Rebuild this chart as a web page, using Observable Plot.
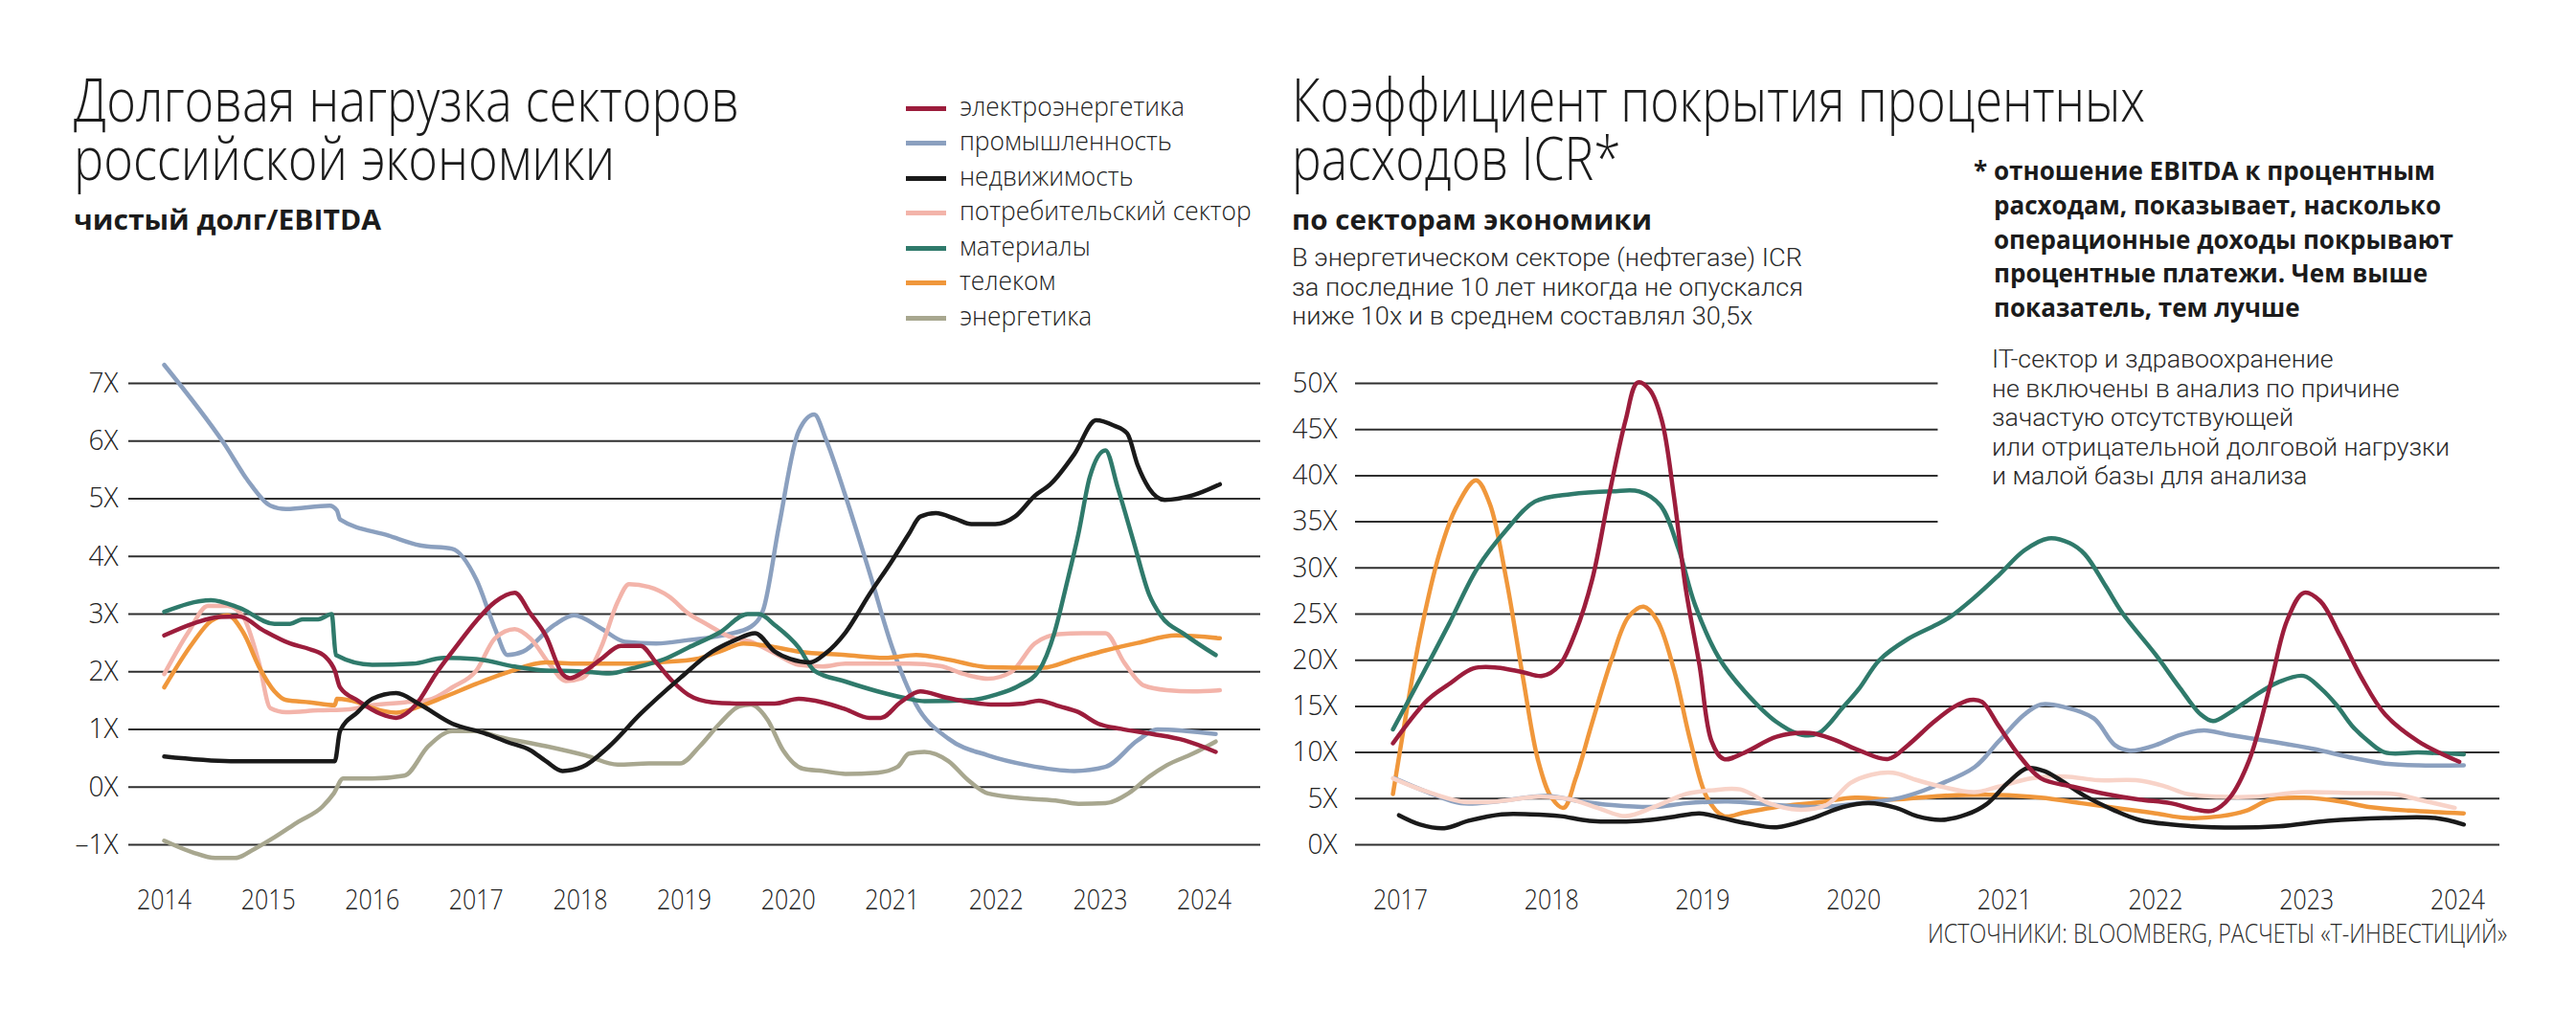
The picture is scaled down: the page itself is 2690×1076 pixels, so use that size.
<!DOCTYPE html>
<html><head><meta charset="utf-8">
<script src="https://cdn.jsdelivr.net/npm/d3@7"></script>
<script src="https://cdn.jsdelivr.net/npm/@observablehq/plot@0.6"></script>
<style>
html,body{margin:0;padding:0;background:#fff;}
#page{position:relative;width:2690px;height:1076px;overflow:hidden;background:#fff;font-family:"Open Sans","Noto Sans",sans-serif;color:#1b1b1b;}
.ln{position:absolute;white-space:nowrap;transform-origin:0 0;}
.sw{position:absolute;height:5px;width:42px;}
.chart{position:absolute;top:330px;}
</style></head><body><div id="page"></div>
<script>
// ---------- texts ----------
const leftTitle = ["Долговая нагрузка секторов", "российской экономики"];
const leftSubtitle = "чистый долг/EBITDA";
const legendLabels = ["электроэнергетика","промышленность","недвижимость","потребительский сектор","материалы","телеком","энергетика"];
const rightTitle = ["Коэффициент покрытия процентных", "расходов ICR*"];
const rightSubtitle = "по секторам экономики";
const rightDesc = ["В энергетическом секторе (нефтегазе) ICR","за последние 10 лет никогда не опускался","ниже 10х и в среднем составлял 30,5х"];
const noteBold = ["отношение EBITDA к процентным","расходам, показывает, насколько","операционные доходы покрывают","процентные платежи. Чем выше","показатель, тем лучше"];
const noteExcl = ["IT-сектор и здравоохранение","не включены в анализ по причине","зачастую отсутствующей","или отрицательной долговой нагрузки","и малой базы для анализа"];
const sourceText = "ИСТОЧНИКИ: BLOOMBERG, РАСЧЕТЫ «Т-ИНВЕСТИЦИЙ»";

// ---------- ticks ----------
const leftYTicks = [-1,0,1,2,3,4,5,6,7];
const leftXTicks = [2014,2015,2016,2017,2018,2019,2020,2021,2022,2023,2024];
const rightYTicksFull = [0,5,10,15,20,25,30];
const rightYTicksShort = [35,40,45,50];
const rightXTicks = [2017,2018,2019,2020,2021,2022,2023,2024];

// ---------- colours ----------
const cElektro = "#9c1d3c", cProm = "#8ba0bf", cNedv = "#1a1a1a", cPotreb = "#f3b4aa", cPotrebR = "#f8d3c8", cMater = "#2f7a6b", cTelecom = "#f0973b", cEnerg = "#a8a78f";
const legendColors = [cElektro, cProm, cNedv, cPotreb, cMater, cTelecom, cEnerg];

// ---------- left chart: net debt / EBITDA ----------
const elektro = [[2014.0,2.63],[2014.3,2.85],[2014.53,2.95],[2014.72,2.96],[2014.95,2.72],[2015.21,2.49],[2015.4,2.39],[2015.55,2.26],[2015.64,2.02],[2015.69,1.73],[2015.86,1.5],[2016.08,1.27],[2016.23,1.2],[2016.42,1.43],[2016.61,1.96],[2016.8,2.42],[2017.0,2.88],[2017.18,3.21],[2017.37,3.37],[2017.52,3.01],[2017.67,2.62],[2017.83,1.96],[2017.9,1.89],[2018.05,2.02],[2018.2,2.22],[2018.39,2.45],[2018.58,2.45],[2018.73,2.16],[2018.89,1.83],[2019.04,1.6],[2019.27,1.47],[2019.49,1.45],[2019.87,1.45],[2020.1,1.53],[2020.33,1.47],[2020.55,1.35],[2020.78,1.2],[2020.89,1.2],[2021.08,1.47],[2021.27,1.66],[2021.5,1.56],[2021.69,1.49],[2021.99,1.43],[2022.26,1.45],[2022.41,1.5],[2022.61,1.4],[2022.79,1.3],[2022.98,1.1],[2023.2,1.01],[2023.5,0.92],[2023.81,0.81],[2024.11,0.61]];
const prom = [[2014.0,7.32],[2014.57,5.97],[2014.83,5.25],[2015.02,4.88],[2015.17,4.82],[2015.59,4.88],[2015.66,4.8],[2015.69,4.64],[2016.16,4.36],[2016.46,4.19],[2016.77,4.13],[2017.0,3.6],[2017.18,2.75],[2017.3,2.29],[2017.45,2.35],[2017.75,2.81],[2017.94,2.98],[2018.2,2.75],[2018.43,2.52],[2018.73,2.49],[2019.04,2.55],[2019.42,2.65],[2019.64,2.78],[2019.76,3.08],[2019.91,4.52],[2020.1,6.17],[2020.25,6.46],[2020.36,6.04],[2020.55,5.05],[2020.78,3.73],[2021.0,2.42],[2021.23,1.43],[2021.54,0.84],[2021.92,0.55],[2022.3,0.38],[2022.75,0.28],[2023.05,0.35],[2023.36,0.81],[2023.55,1.0],[2024.11,0.92]];
const nedv = [[2014.0,0.53],[2014.64,0.45],[2015.64,0.45],[2015.69,0.97],[2015.86,1.3],[2016.0,1.53],[2016.23,1.63],[2016.46,1.43],[2016.77,1.1],[2017.07,0.94],[2017.3,0.78],[2017.52,0.64],[2017.67,0.45],[2017.83,0.28],[2018.02,0.35],[2018.28,0.71],[2018.58,1.27],[2018.96,1.89],[2019.27,2.35],[2019.49,2.55],[2019.68,2.67],[2019.87,2.35],[2020.02,2.22],[2020.21,2.16],[2020.36,2.32],[2020.55,2.68],[2020.78,3.34],[2021.0,3.93],[2021.16,4.39],[2021.27,4.69],[2021.42,4.75],[2021.61,4.65],[2021.76,4.56],[2021.99,4.56],[2022.18,4.69],[2022.37,5.05],[2022.52,5.25],[2022.75,5.77],[2022.96,6.36],[2023.13,6.27],[2023.26,6.13],[2023.36,5.58],[2023.47,5.18],[2023.62,4.98],[2023.89,5.06],[2024.15,5.25]];
const potreb = [[2014.0,1.96],[2014.23,2.68],[2014.42,3.14],[2014.61,3.14],[2014.76,2.95],[2014.91,2.16],[2015.02,1.37],[2015.17,1.3],[2015.48,1.33],[2015.78,1.35],[2016.0,1.42],[2016.31,1.47],[2016.54,1.51],[2016.77,1.73],[2017.0,2.02],[2017.18,2.58],[2017.37,2.74],[2017.52,2.58],[2017.71,2.12],[2017.86,1.84],[2018.02,1.89],[2018.2,2.42],[2018.36,3.21],[2018.47,3.52],[2018.66,3.47],[2018.85,3.31],[2019.04,3.01],[2019.23,2.81],[2019.42,2.62],[2019.64,2.52],[2019.87,2.32],[2020.1,2.12],[2020.33,2.09],[2020.55,2.14],[2021.16,2.14],[2021.46,2.1],[2021.69,1.96],[2021.92,1.88],[2022.14,1.99],[2022.37,2.49],[2022.6,2.65],[2022.83,2.67],[2023.05,2.67],[2023.23,2.16],[2023.42,1.76],[2023.64,1.68],[2023.89,1.66],[2024.15,1.68]];
const mater = [[2014.0,3.04],[2014.45,3.24],[2014.72,3.11],[2015.06,2.83],[2015.21,2.83],[2015.33,2.91],[2015.48,2.91],[2015.61,3.0],[2015.65,2.29],[2016.0,2.12],[2016.39,2.14],[2016.69,2.24],[2017.0,2.22],[2017.37,2.09],[2017.67,2.02],[2017.98,2.01],[2018.28,1.97],[2018.5,2.06],[2018.81,2.22],[2019.04,2.42],[2019.34,2.68],[2019.61,3.0],[2019.72,3.0],[2019.87,2.81],[2020.1,2.42],[2020.25,2.02],[2020.55,1.83],[2020.86,1.66],[2021.16,1.53],[2021.31,1.49],[2021.76,1.51],[2021.99,1.6],[2022.22,1.76],[2022.41,2.02],[2022.56,2.68],[2022.67,3.47],[2022.79,4.39],[2022.9,5.38],[2023.05,5.84],[2023.17,5.18],[2023.32,4.26],[2023.47,3.34],[2023.58,2.98],[2023.81,2.65],[2024.11,2.29]];
const telecom = [[2014.0,1.73],[2014.27,2.49],[2014.45,2.88],[2014.61,2.98],[2014.76,2.68],[2014.91,2.09],[2015.06,1.66],[2015.17,1.51],[2015.4,1.47],[2015.64,1.42],[2015.66,1.53],[2015.86,1.47],[2016.0,1.37],[2016.23,1.29],[2016.46,1.4],[2016.69,1.56],[2017.0,1.79],[2017.3,1.99],[2017.67,2.16],[2017.98,2.14],[2018.43,2.14],[2018.81,2.17],[2019.11,2.22],[2019.34,2.35],[2019.57,2.49],[2019.8,2.45],[2020.1,2.35],[2020.55,2.29],[2020.93,2.24],[2021.23,2.29],[2021.54,2.21],[2021.92,2.08],[2022.45,2.07],[2022.75,2.22],[2023.05,2.37],[2023.36,2.5],[2023.73,2.63],[2024.15,2.58]];
const energ = [[2014.0,-0.93],[2014.27,-1.13],[2014.49,-1.23],[2014.68,-1.23],[2014.87,-1.07],[2015.06,-0.87],[2015.29,-0.6],[2015.52,-0.34],[2015.63,-0.11],[2015.72,0.15],[2016.0,0.15],[2016.31,0.2],[2016.54,0.71],[2016.77,0.97],[2017.0,0.97],[2017.22,0.87],[2017.67,0.71],[2018.05,0.55],[2018.36,0.39],[2018.66,0.41],[2018.96,0.41],[2019.15,0.71],[2019.34,1.1],[2019.53,1.4],[2019.64,1.43],[2019.8,1.17],[2019.95,0.64],[2020.14,0.32],[2020.33,0.28],[2020.55,0.23],[2020.86,0.25],[2021.05,0.35],[2021.16,0.58],[2021.31,0.61],[2021.54,0.45],[2021.73,0.12],[2021.92,-0.11],[2022.3,-0.2],[2022.6,-0.24],[2022.79,-0.29],[2023.05,-0.28],[2023.27,-0.11],[2023.47,0.18],[2023.64,0.38],[2023.89,0.58],[2024.11,0.79]];

// ---------- right chart: ICR ----------
const materR = [[2016.95,12.5],[2017.15,18.6],[2017.32,23.9],[2017.51,30.0],[2017.7,34.1],[2017.89,37.2],[2018.13,38.0],[2018.4,38.3],[2018.58,38.3],[2018.72,36.8],[2018.84,32.1],[2018.95,26.0],[2019.11,20.2],[2019.28,16.6],[2019.49,13.3],[2019.66,11.9],[2019.77,12.1],[2019.93,14.9],[2020.04,17.0],[2020.17,20.0],[2020.36,22.3],[2020.53,23.7],[2020.64,24.7],[2020.8,26.8],[2020.96,29.2],[2021.13,31.9],[2021.29,33.2],[2021.43,32.7],[2021.53,31.5],[2021.67,28.0],[2021.78,25.1],[2022.0,20.6],[2022.16,17.0],[2022.3,14.1],[2022.38,13.4],[2022.49,14.3],[2022.65,16.1],[2022.81,17.6],[2022.98,18.3],[2023.09,17.0],[2023.2,15.1],[2023.3,12.9],[2023.41,11.2],[2023.52,10.0],[2023.74,10.0],[2024.04,9.8]];
const elektroR = [[2016.95,11.0],[2017.18,15.7],[2017.32,17.4],[2017.48,19.1],[2017.64,19.2],[2017.81,18.7],[2017.94,18.3],[2018.05,19.4],[2018.16,23.1],[2018.27,28.8],[2018.38,37.8],[2018.49,46.0],[2018.57,50.1],[2018.65,49.3],[2018.73,46.0],[2018.81,37.8],[2018.89,27.6],[2018.98,19.4],[2019.06,11.2],[2019.14,9.3],[2019.28,10.0],[2019.49,11.7],[2019.71,12.1],[2019.87,11.4],[2020.04,10.2],[2020.23,9.3],[2020.36,10.8],[2020.53,13.3],[2020.66,14.9],[2020.77,15.7],[2020.85,15.5],[2020.96,12.9],[2021.1,9.6],[2021.24,7.2],[2021.45,6.3],[2021.67,5.5],[2021.89,4.9],[2022.1,4.5],[2022.27,3.8],[2022.38,3.7],[2022.49,5.1],[2022.62,9.2],[2022.76,17.4],[2022.87,24.3],[2022.98,27.3],[2023.09,26.4],[2023.22,22.7],[2023.36,18.2],[2023.52,14.1],[2023.74,11.2],[2024.01,9.0]];
const telecomR = [[2016.95,5.5],[2017.02,12.5],[2017.13,22.7],[2017.26,31.7],[2017.37,36.6],[2017.5,39.5],[2017.59,37.0],[2017.7,28.8],[2017.81,18.2],[2017.91,9.2],[2018.0,5.1],[2018.08,4.0],[2018.16,7.2],[2018.27,13.3],[2018.4,20.2],[2018.51,24.7],[2018.61,25.8],[2018.7,24.3],[2018.81,19.0],[2018.92,11.2],[2019.03,5.1],[2019.14,3.1],[2019.28,3.5],[2019.49,4.1],[2019.77,4.6],[2020.01,5.1],[2020.26,4.9],[2020.58,5.3],[2020.96,5.4],[2021.24,5.1],[2021.51,4.5],[2021.78,3.9],[2022.0,3.4],[2022.21,2.9],[2022.43,3.1],[2022.6,3.7],[2022.76,4.9],[2022.98,5.1],[2023.22,4.7],[2023.41,4.1],[2023.68,3.7],[2024.04,3.4]];
const promR = [[2016.96,7.2],[2017.18,5.7],[2017.4,4.5],[2017.64,4.7],[2017.97,5.3],[2018.19,4.7],[2018.4,4.3],[2018.68,4.1],[2018.89,4.5],[2019.17,4.7],[2019.49,4.3],[2019.77,4.1],[2020.04,4.5],[2020.31,5.1],[2020.53,6.3],[2020.8,8.4],[2020.96,11.2],[2021.13,14.1],[2021.24,15.2],[2021.4,14.9],[2021.59,13.7],[2021.73,10.8],[2021.83,10.2],[2022.0,10.8],[2022.16,11.9],[2022.32,12.4],[2022.49,11.9],[2022.76,11.2],[2023.04,10.4],[2023.31,9.4],[2023.52,8.8],[2023.74,8.6],[2024.04,8.6]];
const potrebR = [[2016.95,7.2],[2017.15,5.9],[2017.4,4.7],[2017.64,4.7],[2017.91,5.2],[2018.13,4.9],[2018.32,3.9],[2018.49,3.1],[2018.68,4.1],[2018.89,5.5],[2019.06,5.9],[2019.25,6.0],[2019.44,4.5],[2019.63,3.8],[2019.82,4.3],[2019.98,6.7],[2020.12,7.6],[2020.26,7.8],[2020.42,7.0],[2020.58,6.3],[2020.8,5.7],[2020.96,6.3],[2021.18,7.2],[2021.4,7.4],[2021.62,7.0],[2021.87,7.0],[2022.05,6.4],[2022.21,5.5],[2022.43,5.2],[2022.65,5.2],[2022.98,5.7],[2023.31,5.6],[2023.58,5.5],[2023.74,4.9],[2023.98,4.0]];
const nedvR = [[2016.99,3.2],[2017.13,2.2],[2017.29,1.8],[2017.45,2.6],[2017.67,3.3],[2017.86,3.3],[2018.06,3.1],[2018.25,2.6],[2018.59,2.6],[2018.8,3.0],[2018.98,3.4],[2019.13,2.9],[2019.3,2.3],[2019.49,1.9],[2019.73,2.9],[2019.93,4.1],[2020.1,4.5],[2020.28,4.0],[2020.42,3.1],[2020.58,2.7],[2020.75,3.3],[2020.88,4.4],[2021.02,6.7],[2021.15,8.3],[2021.26,8.0],[2021.37,7.0],[2021.53,5.3],[2021.73,3.7],[2021.89,2.7],[2022.1,2.2],[2022.38,1.9],[2022.81,2.0],[2023.14,2.6],[2023.52,2.9],[2023.85,2.9],[2024.04,2.2]];

// ---------- html text helpers ----------
const page = document.getElementById("page");
function makeDiv(o) {
  const d = document.createElement("div");
  d.className = "ln";
  if (o.font) d.style.fontFamily = o.font;
  d.style.fontSize = o.size + "px";
  d.style.lineHeight = (o.step || o.size) + "px";
  d.style.fontWeight = o.weight || 300;
  d.style.color = o.color || "#1b1b1b";
  d.style.left = "0px"; d.style.top = "0px";
  return d;
}
function makeMarker() {
  const m = document.createElement("i");
  m.style.cssText = "display:inline-block;width:0;height:0;vertical-align:baseline";
  return m;
}
function textWidth(node) {
  const r = document.createRange();
  r.selectNodeContents(node);
  return r.getBoundingClientRect().width;
}
function place(d, marker, w, o) {
  const br = marker.getBoundingClientRect().top - d.getBoundingClientRect().top;
  const k = o.refWidth ? o.refWidth / w : (o.k || 1);
  d.style.top = (o.base - br) + "px";
  d.style.left = (o.anchor === "end" ? o.x - w * k : o.x) + "px";
  d.style.transform = `scaleX(${k})`;
  return k;
}
// lines separated by <br>
function block(lines, o) {
  const d = makeDiv(o);
  const nodes = [];
  let marker = null;
  lines.forEach((t, i) => {
    if (i > 0) d.append(document.createElement("br"));
    const n = document.createTextNode(t);
    d.append(n);
    nodes.push(n);
    if (i === 0) { marker = makeMarker(); d.append(marker); }
  });
  page.append(d);
  return place(d, marker, textWidth(nodes[o.ref || 0]), o);
}
// one wrapped paragraph, broken after the first line
function wrapped(lines, o) {
  const d = makeDiv(o);
  const probe = document.createTextNode(lines[0]);
  d.append(probe);
  page.append(d);
  const w = textWidth(probe);
  d.textContent = "";
  d.style.whiteSpace = "normal";
  d.style.width = Math.ceil(w + 2) + "px";
  const marker = makeMarker();
  d.append(marker, document.createTextNode(lines.join(" ")));
  return place(d, marker, w, o);
}

const tight = 'Roboto, "Open Sans", sans-serif';
wrapped(leftTitle, {x: 77, base: 127, step: 61, size: 62, weight: 300, refWidth: 695});
block([leftSubtitle], {x: 77, base: 240, size: 29, weight: 700, refWidth: 321});
legendColors.forEach((c, i) => {
  const s = document.createElement("div");
  s.className = "sw";
  s.style.background = c;
  s.style.left = "946px";
  s.style.top = (113 + i * 36.5 - 2.5) + "px";
  page.append(s);
});
block(legendLabels, {x: 1002, base: 120.5, step: 36.5, size: 28, weight: 300, refWidth: 235, color: "#222"});
block(rightTitle, {x: 1349, base: 127, step: 61, size: 62, weight: 300, refWidth: 891});
block([rightSubtitle], {x: 1349, base: 240, size: 29, weight: 700, refWidth: 376});
block(rightDesc, {x: 1349, base: 278, step: 30.5, size: 26, weight: 300, ref: 1, refWidth: 534, color: "#2a2a2a", font: tight});
const kb = block(noteBold, {x: 2082, base: 188, step: 35.8, size: 26, weight: 700, refWidth: 461});
block(["*"], {x: 2061, base: 188, size: 26, weight: 700, k: kb});
block(noteExcl, {x: 2080, base: 384, step: 30.6, size: 26, weight: 300, ref: 3, refWidth: 478, color: "#2a2a2a", font: tight});
block([sourceText], {x: 2618, base: 985, size: 27, weight: 300, refWidth: 605, anchor: "end", color: "#2a2a2a"});

// ---------- charts ----------
const plotStyle = {fontFamily: '"Open Sans", "Noto Sans", sans-serif', fontSize: "29px", fontWeight: 300, color: "#222", background: "transparent", overflow: "visible"};
const gridStroke = "#2f2f2f";
const fmtY = d => (d < 0 ? "\u2013" + Math.abs(d) : String(d)) + "X";

const leftSeries = [[energ, cEnerg], [prom, cProm], [potreb, cPotreb], [telecom, cTelecom], [mater, cMater], [elektro, cElektro], [nedv, cNedv]];
const left = Plot.plot({
  width: 1330, height: 746,
  marginLeft: 134, marginRight: 14, marginTop: 70, marginBottom: 194,
  style: plotStyle,
  x: {domain: [2013.659, 2024.543]},
  y: {domain: [-1, 7]},
  marks: [
    Plot.ruleY(leftYTicks, {stroke: gridStroke, strokeWidth: 2}),
    ...leftSeries.map(([data, c]) => Plot.line(data, {x: d => d[0], y: d => d[1], stroke: c, strokeWidth: 4.5, curve: "monotone-x", strokeLinejoin: "round", strokeLinecap: "round"})),
    Plot.axisY({ticks: leftYTicks, tickSize: 0, tickPadding: 11, tickFormat: fmtY, label: null}),
    Plot.axisX({ticks: leftXTicks, tickSize: 0, tickPadding: 47, tickFormat: d => String(d), label: null})
  ]
});
left.classList.add("chart");
left.style.left = "0px";
page.append(left);

const rightSeries = [[telecomR, cTelecom], [promR, cProm], [potrebR, cPotrebR], [nedvR, cNedv], [materR, cMater], [elektroR, cElektro]];
const right = Plot.plot({
  width: 1350, height: 746,
  marginLeft: 75, marginRight: 80, marginTop: 70, marginBottom: 194,
  style: plotStyle,
  x: {domain: [2016.702, 2024.279]},
  y: {domain: [0, 50]},
  marks: [
    Plot.ruleY(rightYTicksFull, {stroke: gridStroke, strokeWidth: 2}),
    Plot.ruleY(rightYTicksShort, {x1: 2016.702, x2: 2020.56, stroke: gridStroke, strokeWidth: 2}),
    ...rightSeries.map(([data, c]) => Plot.line(data, {x: d => d[0], y: d => d[1], stroke: c, strokeWidth: 4.5, curve: "catmull-rom", strokeLinejoin: "round", strokeLinecap: "round"})),
    Plot.axisY({ticks: [...rightYTicksFull, ...rightYTicksShort], tickSize: 0, tickPadding: 19, tickFormat: fmtY, label: null}),
    Plot.axisX({ticks: rightXTicks, tickSize: 0, tickPadding: 47, tickFormat: d => String(d), label: null})
  ]
});
right.classList.add("chart");
right.style.left = "1340px";
page.append(right);

// condense tick labels to the narrow face of the original
function condense(svg, sel, factor) {
  svg.querySelectorAll(sel).forEach(t => {
    const w = t.getComputedTextLength();
    t.setAttribute("textLength", (w * factor).toFixed(2));
    t.setAttribute("lengthAdjust", "spacingAndGlyphs");
  });
}
const sample = [...left.querySelectorAll('g[aria-label="x-axis tick label"] text')].find(t => t.textContent === "2014");
const fx = sample ? 57 / sample.getComputedTextLength() : 0.86;
const sampleY = [...right.querySelectorAll('g[aria-label="y-axis tick label"] text')].find(t => t.textContent === "50X");
const fy = sampleY ? 47 / sampleY.getComputedTextLength() : 0.95;
[left, right].forEach(svg => {
  condense(svg, 'g[aria-label="x-axis tick label"] text', fx);
  condense(svg, 'g[aria-label="y-axis tick label"] text', fy);
});
</script></body></html>
